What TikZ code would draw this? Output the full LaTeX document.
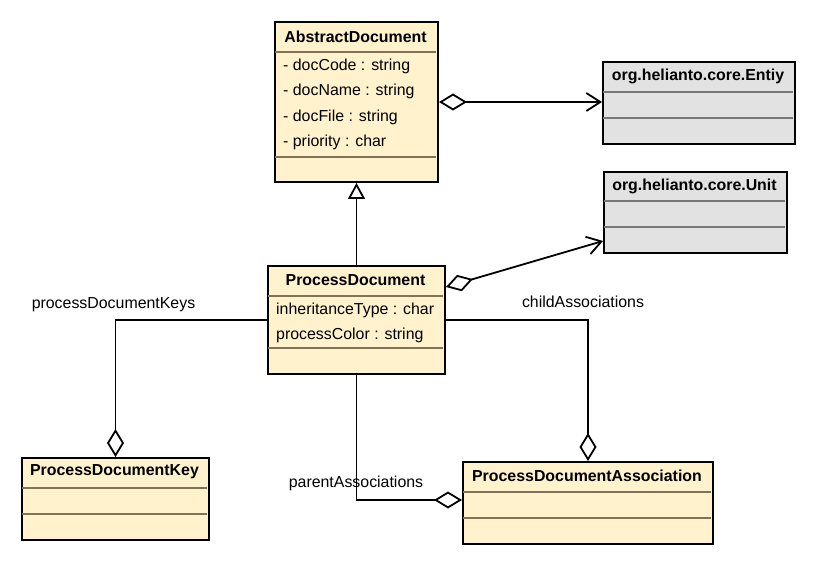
\documentclass[tikz,border=0pt]{standalone}
\usepackage{fontspec}
\setmainfont{Liberation Sans}
\usepackage{tikz}
\usetikzlibrary{arrows.meta,calc}

\definecolor{clsfill}{HTML}{FFF2CC}
\definecolor{clssep}{HTML}{7F7355}
\definecolor{extfill}{HTML}{E2E2E2}
\definecolor{extsep}{HTML}{777777}

\tikzset{
  cls/.style={draw, line width=2pt, fill=clsfill, anchor=north west, inner sep=0pt},
  ext/.style={cls, fill=extfill},
  sepline/.style={clssep, line width=1.6pt},
  extline/.style={extsep, line width=1.6pt},
  title/.style={font=\fontsize{15.9}{18}\selectfont\bfseries, inner sep=0pt},
  attr/.style={font=\fontsize{15.9}{18}\selectfont, anchor=west, inner sep=0pt},
  role/.style={font=\fontsize{15.9}{18}\selectfont, inner sep=0pt},
  conn/.style={line width=1.8pt},
  agg/.style={conn, {Diamond[open,length=28pt,width=17pt]}-{Straight Barb[length=14pt,width=18pt]}},
  diam/.style={conn, {Diamond[open,length=28pt,width=17pt]}-},
  gen/.style={conn, -{Triangle[open,length=16pt,width=17pt]}}
}

\begin{document}
\begin{tikzpicture}[x=1pt, y=-1pt]
    \useasboundingbox (0,0) rectangle (815,564);
    \node [cls, minimum width=163, minimum height=160] (abs) at (274,21) {};
    \draw [sepline] (275,52) -- (436,52); \draw [sepline] (275,157) --
    (436,157); \node [title] (absT) at (355.5,37) {AbstractDocument};
    \node [attr] (absA1) at (283,66) {- docCode : string}; \node [attr]
    (absA2) at (283,91) {- docName : string}; \node [attr] (absA3) at
    (283,117) {- docFile : string}; \node [attr] (absA4) at (283,142)
    {- priority : char};
    \node [ext, minimum width=192, minimum height=82] (ent) at (602,61) {};
    \draw [extline] (603,92) -- (793,92); \draw [extline] (603,118) --
    (793,118); \node [title] (entT) at (698,76) {org.helianto.core.Entiy};
    \node [ext, minimum width=183, minimum height=81] (unit) at (603,171) {};
    \draw [extline] (604,201) -- (785,201); \draw [extline] (604,227) --
    (785,227); \node [title] (unitT) at (694.5,186) {org.helianto.core.Unit};
    \node [cls, minimum width=177, minimum height=108] (proc) at (267,265) {};
    \draw [sepline] (268,296) -- (443,296); \draw [sepline] (268,348) --
    (443,348); \node [title] (procT) at (355.5,280) {ProcessDocument};
    \node [attr] (procA1) at (276,310) {inheritanceType : char}; \node
    [attr] (procA2) at (276,335) {processColor : string};
    \node [cls, minimum width=187, minimum height=82] (key) at (21,457) {};
    \draw [sepline] (22,488) -- (207,488); \draw [sepline] (22,514) --
    (207,514); \node [title] (keyT) at (114.5,472) {ProcessDocumentKey};
    \node [cls, minimum width=250, minimum height=82] (assoc) at (462,461) {};
    \draw [sepline] (463,492) -- (711,492); \draw [sepline] (463,518) --
    (711,518); \node [title] (assocT) at (587,476)
    {ProcessDocumentAssociation};
    \draw [gen] (proc.north) -- (abs.south);
    \draw [agg] (abs.east) -- (abs.east -| ent.west);
    \draw [agg] ($(proc.north east)+(0,22)$) -- ($(unit.south west)+(0,-13)$);
    \draw [diam] (key.north) |- (proc.west);
    \draw [diam] (assoc.north) |- (proc.east);
    \draw [diam] ($(assoc.west)+(0,-3)$) -| (proc.south);
    \node [role] (keysL) at (113.5,305) {processDocumentKeys}; \node
    [role] (childL) at (583,302) {childAssociations}; \node [role]
    (parentL) at (356,483) {parentAssociations};
\end{tikzpicture}
\end{document}
